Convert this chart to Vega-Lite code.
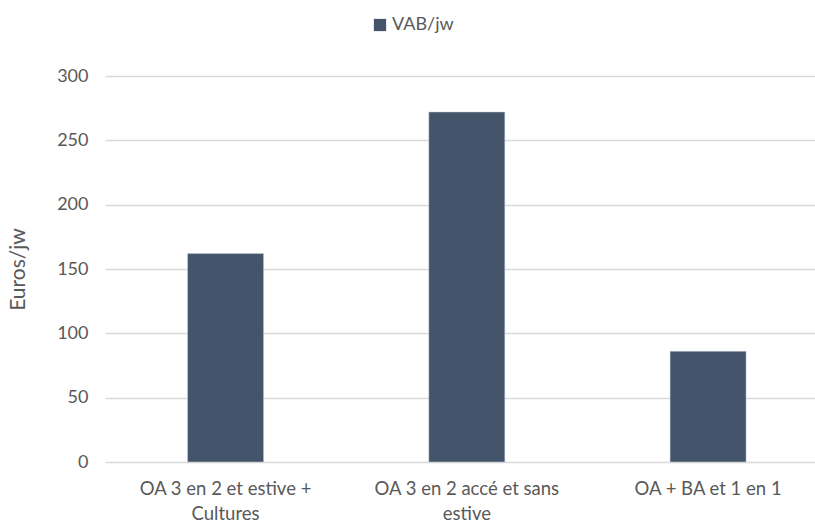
{
  "$schema": "https://vega.github.io/schema/vega-lite/v6.json",
  "width": 710,
  "height": 386,
  "autosize": "none",
  "padding": {"left": 105, "top": 76, "right": 0, "bottom": 69},
  "background": "white",
  "config": {
    "font": "Lato",
    "view": {"stroke": null},
    "axis": {"labelColor": "#595959", "titleColor": "#595959", "labelFont": "Lato", "titleFont": "Lato"}
  },
  "data": {
    "values": [
      {"scenario": "OA 3 en 2 et estive + Cultures", "serie": "VAB/jw", "valeur": 162},
      {"scenario": "OA 3 en 2 accé et sans estive", "serie": "VAB/jw", "valeur": 272},
      {"scenario": "OA + BA et 1 en 1", "serie": "VAB/jw", "valeur": 86}
    ]
  },
  "mark": {"type": "bar", "stroke": "#c9cfd8", "strokeWidth": 0.5},
  "encoding": {
    "x": {
      "field": "scenario",
      "type": "nominal",
      "sort": null,
      "scale": {"paddingInner": 0.685, "paddingOuter": 0.314, "align": 0.545},
      "axis": {
        "title": null,
        "labelAngle": 0,
        "labelFontSize": 18.5,
        "labelPadding": 17,
        "labelLineHeight": 25,
        "labelLimit": 300,
        "domain": false,
        "ticks": false,
        "labelExpr": "datum.label == 'OA 3 en 2 et estive + Cultures' ? ['OA 3 en 2 et estive +', 'Cultures'] : datum.label == 'OA 3 en 2 accé et sans estive' ? ['OA 3 en 2 accé et sans', 'estive'] : datum.label"
      }
    },
    "y": {
      "field": "valeur",
      "type": "quantitative",
      "scale": {"domain": [0, 300], "nice": false},
      "axis": {
        "title": "Euros/jw",
        "titleFontSize": 21,
        "titleFontWeight": "normal",
        "titlePadding": 28,
        "values": [0, 50, 100, 150, 200, 250, 300],
        "labelFontSize": 18,
        "labelPadding": 17,
        "domain": false,
        "ticks": false,
        "gridColor": "#D9D9D9",
        "gridWidth": 1.3
      }
    },
    "color": {
      "field": "serie",
      "type": "nominal",
      "scale": {"range": ["#44546A"]},
      "legend": {
        "title": null,
        "orient": "none",
        "legendX": 266,
        "legendY": -60,
        "symbolType": "square",
        "symbolSize": 150,
        "symbolStrokeWidth": 0,
        "labelFontSize": 18,
        "labelColor": "#595959",
        "labelOffset": 3
      }
    }
  }
}
